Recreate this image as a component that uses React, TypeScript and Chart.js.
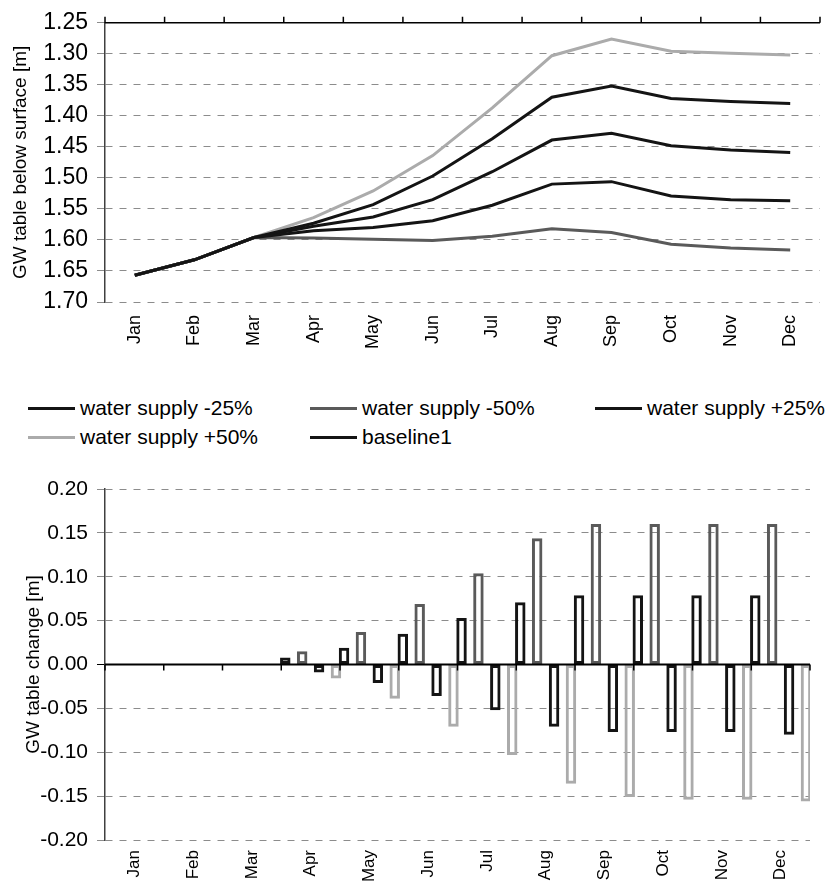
import React, { useEffect, useRef } from 'react';
import { Chart, registerables } from 'chart.js';

Chart.register(...registerables);

const FONT = '"Liberation Sans", Arial, Helvetica, sans-serif';

// ---- data ----
const months = ['Jan', 'Feb', 'Mar', 'Apr', 'May', 'Jun', 'Jul', 'Aug', 'Sep', 'Oct', 'Nov', 'Dec'];

const seriesNames = ['water supply -25%', 'water supply -50%', 'water supply +25%', 'water supply +50%', 'baseline1'];

// GW table below surface [m]
const depthMinus25 = [1.657, 1.632, 1.596, 1.585, 1.580, 1.569, 1.544, 1.510, 1.506, 1.529, 1.535, 1.537];
const depthMinus50 = [1.657, 1.632, 1.596, 1.597, 1.599, 1.601, 1.594, 1.582, 1.588, 1.607, 1.613, 1.616];
const depthPlus25 = [1.657, 1.632, 1.596, 1.573, 1.543, 1.497, 1.437, 1.370, 1.352, 1.372, 1.377, 1.380];
const depthPlus50 = [1.657, 1.632, 1.596, 1.564, 1.521, 1.464, 1.387, 1.303, 1.276, 1.296, 1.299, 1.302];
const depthBaseline = [1.657, 1.632, 1.596, 1.578, 1.563, 1.535, 1.490, 1.439, 1.428, 1.448, 1.455, 1.459];

// GW table change [m]
const changeMinus25 = [null, null, null, 0.008, 0.019, 0.035, 0.053, 0.071, 0.079, 0.079, 0.079, 0.079];
const changeMinus50 = [null, null, null, 0.015, 0.037, 0.069, 0.104, 0.144, 0.160, 0.160, 0.160, 0.160];
const changePlus25 = [null, null, null, -0.009, -0.021, -0.036, -0.052, -0.071, -0.077, -0.077, -0.077, -0.080];
const changePlus50 = [null, null, null, -0.016, -0.039, -0.071, -0.103, -0.136, -0.151, -0.154, -0.154, -0.156];

// ---- styles ----
const seriesColors = ['#141414', '#5a5a5a', '#141414', '#ababab', '#141414'];
const GRID = '#8c8c8c';
const AXIS = '#404040';
const DASH = [7, 7];

const topAxisPlugin = {
  id: 'topAxis',
  afterDatasetsDraw(chart: any) {
    const { ctx, chartArea, scales } = chart;
    const x = scales.x;
    const n = chart.data.labels.length;
    const w = (x.right - x.left) / n;
    ctx.save();
    ctx.strokeStyle = '#000';
    ctx.lineWidth = 1.5;
    ctx.beginPath();
    ctx.moveTo(chartArea.left, chartArea.top);
    ctx.lineTo(chartArea.right, chartArea.top);
    for (let i = 0; i <= n; i++) {
      const px = x.left + i * w;
      ctx.moveTo(px, chartArea.top);
      ctx.lineTo(px, chartArea.top - 6);
    }
    ctx.stroke();
    ctx.restore();
  },
};

const zeroAxisPlugin = {
  id: 'zeroAxis',
  afterDatasetsDraw(chart: any) {
    const { ctx, chartArea, scales } = chart;
    const x = scales.x;
    const y0 = scales.y.getPixelForValue(0);
    const n = chart.data.labels.length;
    const w = (x.right - x.left) / n;
    ctx.save();
    ctx.strokeStyle = '#000';
    ctx.lineWidth = 2;
    ctx.beginPath();
    ctx.moveTo(chartArea.left, y0);
    ctx.lineTo(chartArea.right, y0);
    ctx.stroke();
    ctx.lineWidth = 1.5;
    ctx.beginPath();
    for (let i = 0; i <= n; i++) {
      const px = x.left + i * w;
      ctx.moveTo(px, y0);
      ctx.lineTo(px, y0 + 6);
    }
    ctx.stroke();
    ctx.restore();
  },
};

function TopChart() {
  const ref = useRef<HTMLCanvasElement>(null);
  useEffect(() => {
    const values = [depthMinus25, depthMinus50, depthPlus25, depthPlus50, depthBaseline];
    const chart = new Chart(ref.current!, {
      type: 'line',
      data: {
        labels: months,
        datasets: values.map((v, i) => ({
          label: seriesNames[i],
          data: v,
          borderColor: seriesColors[i],
          backgroundColor: seriesColors[i],
          borderWidth: 3,
          pointRadius: 0,
          tension: 0,
          fill: false,
        })),
      },
      options: {
        animation: false,
        responsive: false,
        maintainAspectRatio: false,
        layout: { padding: { left: 9, right: 14, top: 20, bottom: 0 } },
        plugins: { legend: { display: false }, tooltip: { enabled: false } },
        scales: {
          x: {
            type: 'category',
            offset: true,
            grid: { display: false, drawTicks: false, tickLength: 0 },
            border: { display: false },
            ticks: {
              maxRotation: 90,
              minRotation: 90,
              padding: 13,
              color: '#000',
              font: { family: FONT, size: 18 },
            },
            afterFit: (s: any) => { s.height = 58; },
          },
          y: {
            reverse: true,
            min: 1.25,
            max: 1.7,
            ticks: {
              stepSize: 0.05,
              padding: 9,
              color: '#000',
              font: { family: FONT, size: 23 },
              callback: (v: any) => Number(v).toFixed(2),
            },
            grid: { color: GRID, lineWidth: 1, tickLength: 8, tickColor: GRID },
            border: { display: true, color: AXIS, width: 1.5, dash: DASH },
            title: {
              display: true,
              text: 'GW table below surface [m]',
              color: '#000',
              font: { family: FONT, size: 19 },
              padding: { top: 0, bottom: 0 },
            },
            afterFit: (s: any) => { s.width = 96; },
          },
        },
      },
      plugins: [topAxisPlugin],
    });
    return () => chart.destroy();
  }, []);
  return <canvas ref={ref} width={834} height={360} style={{ display: 'block', width: 834, height: 360 }} />;
}

function BottomChart() {
  const ref = useRef<HTMLCanvasElement>(null);
  useEffect(() => {
    const values = [changeMinus25, changeMinus50, changePlus25, changePlus50];
    const chart = new Chart(ref.current!, {
      type: 'bar',
      data: {
        labels: months,
        datasets: values.map((v, i) => ({
          label: seriesNames[i],
          data: v,
          borderColor: seriesColors[i],
          backgroundColor: 'rgba(0,0,0,0)',
          borderWidth: 3,
          borderSkipped: false,
          barPercentage: 0.62,
          categoryPercentage: 1.15,
        })),
      },
      options: {
        animation: false,
        responsive: false,
        maintainAspectRatio: false,
        layout: { padding: { left: 22, right: 24, top: 29, bottom: 0 } },
        plugins: { legend: { display: false }, tooltip: { enabled: false } },
        scales: {
          x: {
            type: 'category',
            offset: true,
            grid: { display: false, drawTicks: false, tickLength: 0 },
            border: { display: false },
            ticks: {
              maxRotation: 90,
              minRotation: 90,
              padding: 10,
              color: '#000',
              font: { family: FONT, size: 17 },
            },
            afterFit: (s: any) => { s.height = 44; },
          },
          y: {
            min: -0.2,
            max: 0.2,
            ticks: {
              stepSize: 0.05,
              padding: 9,
              color: '#000',
              font: { family: FONT, size: 21 },
              callback: (v: any) => Number(v).toFixed(2),
            },
            grid: {
              color: (c: any) => (Math.abs(c.tick?.value ?? 1) < 1e-9 ? '#000' : GRID),
              lineWidth: 1,
              tickLength: 8,
              tickColor: (c: any) => (Math.abs(c.tick?.value ?? 1) < 1e-9 ? '#000' : GRID),
            },
            border: {
              display: true,
              color: AXIS,
              width: 1.5,
              dash: (c: any) => (Math.abs(c.tick?.value ?? 1) < 1e-9 ? [] : DASH),
            },
            title: {
              display: true,
              text: 'GW table change [m]',
              color: '#000',
              font: { family: FONT, size: 19 },
              padding: { top: 0, bottom: 0 },
            },
            afterFit: (s: any) => { s.width = 83; },
          },
        },
      },
      plugins: [zeroAxisPlugin],
    });
    return () => chart.destroy();
  }, []);
  return <canvas ref={ref} width={834} height={424} style={{ display: 'block', width: 834, height: 424 }} />;
}

function Legend() {
  const cols = [28, 310, 595];
  const rows = [408, 437];
  return (
    <>
      {seriesNames.map((name, i) => (
        <div
          key={name}
          style={{
            position: 'absolute',
            left: cols[i % 3],
            top: rows[Math.floor(i / 3)] - 14,
            height: 28,
            display: 'flex',
            alignItems: 'center',
            fontFamily: FONT,
            fontSize: 21,
            color: '#000',
            whiteSpace: 'pre',
          }}
        >
          <span style={{ display: 'inline-block', width: 47, height: 3, background: seriesColors[i], marginRight: 5 }} />
          <span>{name}</span>
        </div>
      ))}
    </>
  );
}

export default function App() {
  return (
    <div style={{ position: 'absolute', left: 0, top: 0, width: 834, height: 884, background: '#fff', overflow: 'hidden' }}>
      <div style={{ position: 'absolute', left: 0, top: 0 }}>
        <TopChart />
      </div>
      <Legend />
      <div style={{ position: 'absolute', left: 0, top: 460 }}>
        <BottomChart />
      </div>
    </div>
  );
}
